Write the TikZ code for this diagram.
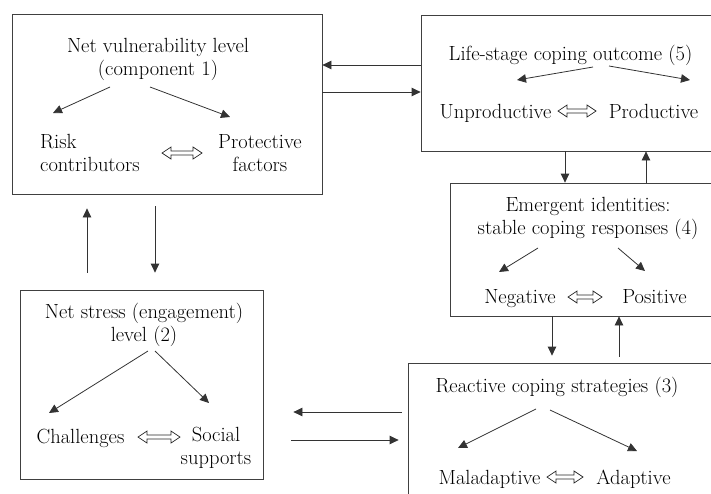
\documentclass[tikz,border=0pt]{standalone}
\usepackage{fontspec}
\usetikzlibrary{arrows.meta,calc}
\begin{document}
\begin{tikzpicture}[x=1pt,y=-1pt,
  box/.style={draw=black!75, line width=0.8pt, rectangle, inner sep=0pt},
  lbl/.style={font=\fontsize{20.5}{22.5}\selectfont, text=black, inner sep=0pt, anchor=base},
  arr/.style={draw=black!80, line width=0.8pt, -{Triangle[length=9pt,width=8.5pt]}},
  dbl/.style={draw=black!85, line width=0.7pt, line join=miter,
    to path={(\tikztostart) -- ++(9pt,6pt) -- ++(0,-4pt) -- ($(\tikztotarget)+(-9pt,2pt)$) -- ++(0,4pt) -- (\tikztotarget) -- ++(-9pt,-6pt) -- ++(0,4pt) -- ($(\tikztostart)+(9pt,-2pt)$) -- ++(0,-4pt) -- cycle}}]
\useasboundingbox (0,0) rectangle (711,493);
\clip (0,0) rectangle (711,493);
% boxes
\node[box, minimum width=310pt, minimum height=180pt] (b1) at (167,104) {};
\node[box, minimum width=319pt, minimum height=136pt] (b5) at (580.5,83) {};
\node[box, minimum width=290pt, minimum height=133pt] (b4) at (595,249.5) {};
\node[box, minimum width=332pt, minimum height=157pt] (b3) at (574,441.5) {};
\node[box, minimum width=243pt, minimum height=189pt] (b2) at (141.5,384.5) {};
% box 1 (base anchor = baseline of last line)
\node[lbl, align=center] (t1) at (158,75) {Net vulnerability level\\(component 1)};
\node[lbl, align=left, anchor=base west] (risk) at (40,171) {Risk\\contributors};
\node[lbl, align=center] (prot) at (260,171) {Protective\\factors};
\coordinate (a1s) at (110,87); \coordinate (a1e) at (53,113);
\coordinate (a2s) at (150,87); \coordinate (a2e) at (230,117);
\draw[arr] (a1s) -- (a1e);
\draw[arr] (a2s) -- (a2e);
\coordinate (d1a) at (162,153); \coordinate (d1b) at (202,153);
\draw[dbl] (d1a) to (d1b);
% box 5
\node[lbl] (t5) at (570.5,60) {Life-stage coping outcome (5)};
\node[lbl] (unp) at (495.5,118) {Unproductive};
\node[lbl] (pro) at (653.5,118) {Productive};
\coordinate (a3s) at (593,67); \coordinate (a3e) at (517,80);
\coordinate (a4s) at (609,66); \coordinate (a4e) at (690,80);
\draw[arr] (a3s) -- (a3e);
\draw[arr] (a4s) -- (a4e);
\coordinate (d5a) at (558,111); \coordinate (d5b) at (596,111);
\draw[dbl] (d5a) to (d5b);
% box 4
\node[lbl, align=center] (t4) at (588,234) {Emergent identities:\\stable coping responses (4)};
\node[lbl] (neg) at (520,303) {Negative};
\node[lbl] (pos) at (654.5,303) {Positive};
\coordinate (a5s) at (538,248); \coordinate (a5e) at (499,272);
\coordinate (a6s) at (618,248); \coordinate (a6e) at (645,271);
\draw[arr] (a5s) -- (a5e);
\draw[arr] (a6s) -- (a6e);
\coordinate (d4a) at (568,297); \coordinate (d4b) at (602,297);
\draw[dbl] (d4a) to (d4b);
% box 3
\node[lbl] (t3) at (557,392) {Reactive coping strategies (3)};
\node[lbl] (mal) at (489.5,484) {Maladaptive};
\node[lbl] (ada) at (633.5,484) {Adaptive};
\coordinate (a7s) at (536,409); \coordinate (a7e) at (458,448);
\coordinate (a8s) at (550,410); \coordinate (a8e) at (637,451);
\draw[arr] (a7s) -- (a7e);
\draw[arr] (a8s) -- (a8e);
\coordinate (d3a) at (547,477); \coordinate (d3b) at (583,477);
\draw[dbl] (d3a) to (d3b);
% box 2
\node[lbl, align=center] (t2) at (144,341) {Net stress (engagement)\\level (2)};
\node[lbl] (cha) at (80.5,443) {Challenges};
\node[lbl, align=center] (soc) at (216,464) {Social\\supports};
\coordinate (a9s) at (148,351); \coordinate (a9e) at (49,413);
\coordinate (a10s) at (155,351); \coordinate (a10e) at (209,403);
\draw[arr] (a9s) -- (a9e);
\draw[arr] (a10s) -- (a10e);
\coordinate (d2a) at (138,437); \coordinate (d2b) at (180,437);
\draw[dbl] (d2a) to (d2b);
% connectors between boxes
\draw[arr] ([yshift=18pt]b5.west) -- ([yshift=39pt]b1.east);
\draw[arr] ([yshift=12pt]b1.east) -- ([yshift=-9pt]b5.west);
\draw[arr, shorten <=17pt, shorten >=14pt] ([xshift=-54.5pt]b2.north) -- ([xshift=-80pt]b1.south);
\draw[arr, shorten <=12pt, shorten >=17pt] ([xshift=-12pt]b1.south) -- ([xshift=13.5pt]b2.north);
\draw[arr] ([xshift=-15.5pt]b5.south) -- ([xshift=-30pt]b4.north);
\draw[arr] ([xshift=51pt]b4.north) -- ([xshift=65.5pt]b5.south);
\draw[arr, shorten >=7pt] ([xshift=-43pt]b4.south) -- ([xshift=-22pt]b3.north);
\draw[arr, shorten <=6pt] ([xshift=45pt]b3.north) -- ([xshift=24pt]b4.south);
\draw[arr, shorten <=6pt, shorten >=30pt] ([yshift=29.5pt]b3.west) -- ([yshift=-27.5pt]b2.east);
\draw[arr, shorten <=28pt, shorten >=9pt] ([yshift=-55.5pt]b2.east) -- ([yshift=1.5pt]b3.west);
\end{tikzpicture}
\end{document}
